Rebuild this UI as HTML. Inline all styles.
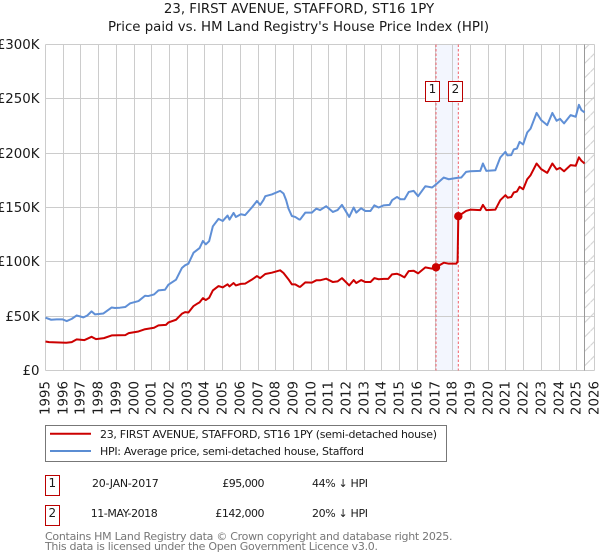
<!DOCTYPE html>
<html lang="en">
<head>
<meta charset="utf-8">
<title>23, FIRST AVENUE, STAFFORD, ST16 1PY</title>
<style>
html,body{margin:0;padding:0;background:#fff;width:600px;height:560px;overflow:hidden}
svg{display:block}
text{font-family:"DejaVu Sans","Liberation Sans",sans-serif;fill:#1a1a1a}
</style>
</head>
<body>
<svg id="chart" xmlns="http://www.w3.org/2000/svg" width="600" height="560" viewBox="0 0 600 560">
<defs>
<pattern id="hatch" patternUnits="userSpaceOnUse" width="14.4" height="14.4"><line x1="0" y1="14.4" x2="14.4" y2="0" stroke="#cfcfcf" stroke-width="1"/></pattern>
</defs>
<text x="299" y="13" text-anchor="middle" font-size="13.33">23, FIRST AVENUE, STAFFORD, ST16 1PY</text>
<text x="298.5" y="31" text-anchor="middle" font-size="13.33">Price paid vs. HM Land Registry's House Price Index (HPI)</text>
<g id="plot"></g>
<g>
<rect x="45.5" y="425.5" width="401" height="36" fill="#fff" stroke="#777" stroke-width="1"/>
<line x1="50" x2="91" y1="433.8" y2="433.8" stroke="#cc0000" stroke-width="2"/>
<text x="100" y="438" font-size="11" textLength="337" lengthAdjust="spacing">23, FIRST AVENUE, STAFFORD, ST16 1PY (semi-detached house)</text>
<line x1="50" x2="91" y1="451" y2="451" stroke="#5b8dd3" stroke-width="2"/>
<text x="100" y="455" font-size="11" textLength="264" lengthAdjust="spacing">HPI: Average price, semi-detached house, Stafford</text>
</g>
<g>
<rect x="45.5" y="475.5" width="14" height="20" fill="#fff" stroke="#bb0000" stroke-width="1"/>
<text x="52.3" y="487" text-anchor="middle" font-size="12">1</text>
<text x="92" y="487" font-size="11" textLength="66.7" lengthAdjust="spacing">20-JAN-2017</text>
<text x="222.3" y="487" font-size="11" textLength="42.2" lengthAdjust="spacing">£95,000</text>
<text x="312" y="487" font-size="11" textLength="56" lengthAdjust="spacing">44% ↓ HPI</text>
<rect x="45.5" y="505.5" width="14" height="20" fill="#fff" stroke="#bb0000" stroke-width="1"/>
<text x="52.3" y="517" text-anchor="middle" font-size="12">2</text>
<text x="90.7" y="517" font-size="11" textLength="67" lengthAdjust="spacing">11-MAY-2018</text>
<text x="215.3" y="517" font-size="11" textLength="49.2" lengthAdjust="spacing">£142,000</text>
<text x="312" y="517" font-size="11" textLength="56" lengthAdjust="spacing">20% ↓ HPI</text>
</g>
<text x="45" y="540" font-size="11" textLength="407.5" lengthAdjust="spacing" style="fill:#777">Contains HM Land Registry data © Crown copyright and database right 2025.</text>
<text x="45" y="550" font-size="11" textLength="333" lengthAdjust="spacing" style="fill:#777">This data is licensed under the Open Government Licence v3.0.</text>
</svg>
<script>
const yearTicks = [1995,1996,1997,1998,1999,2000,2001,2002,2003,2004,2005,2006,2007,2008,2009,2010,2011,2012,2013,2014,2015,2016,2017,2018,2019,2020,2021,2022,2023,2024,2025,2026];
const priceTicks = [0,50,100,150,200,250,300];
const priceTickLabels = ['£0','£50K','£100K','£150K','£200K','£250K','£300K'];
const saleDates = [2017.05,2018.31];
const salePrices = [95,142];
const saleLabels = ['1','2'];
const dataEnd = 2025.44;
const hpiDates = [1995,1995.32,1995.63,1995.97,1996.2,1996.48,1996.76,1997.14,1997.36,1997.6,1997.8,1998.27,1998.74,1998.92,1999.2,1999.5,1999.78,2000.25,2000.62,2000.8,2001.13,2001.38,2001.75,2001.94,2002.37,2002.7,2002.88,2003.07,2003.36,2003.7,2003.89,2004.05,2004.24,2004.45,2004.77,2005.01,2005.28,2005.39,2005.62,2005.75,2006.03,2006.27,2006.65,2006.94,2007.12,2007.31,2007.41,2007.78,2008.25,2008.44,2008.59,2008.72,2008.91,2009.1,2009.33,2009.38,2009.67,2010.04,2010.29,2010.5,2010.85,2011.23,2011.49,2011.74,2012.15,2012.4,2012.55,2012.82,2013.06,2013.35,2013.57,2013.81,2014.1,2014.43,2014.57,2014.85,2015.04,2015.27,2015.51,2015.79,2016.04,2016.45,2016.83,2017.06,2017.49,2017.77,2018.24,2018.48,2018.75,2018.99,2019.55,2019.7,2019.89,2020.4,2020.68,2020.97,2021.08,2021.3,2021.44,2021.62,2021.77,2021.97,2022.2,2022.39,2022.73,2022.99,2023.33,2023.62,2023.86,2024.05,2024.28,2024.65,2024.94,2025.12,2025.26,2025.44];
const hpiValues = [48.6,46.7,47,47,45.5,47.5,50.7,48.9,50.6,54.4,51.6,52.5,58,57.5,57.8,58.4,61.8,63.9,68.8,68.5,70,73.7,74.3,79,83.6,94.3,96.8,98.3,108.4,112.7,119.2,116.1,119,132.7,139.5,137.6,142.6,138.9,145,141.3,143.8,143,150,156,152.4,157,160.4,162,165.3,162.9,156.7,149,142.2,141.3,138.9,139,145.3,145.3,149,147.6,151.2,145.9,147.6,152.4,141.3,150,145.3,149.3,146.8,146.8,152,150,152,152.4,156.7,159.7,157.6,157.6,164.3,165.3,160.4,169.6,168.4,171.4,177.6,176,177.3,177.6,182.8,183.4,183.7,190.5,183.7,184.3,196,201.2,198,198.2,203.4,204.3,210.4,208,219,222.6,237,230.4,225.8,237,229.8,231.6,227.4,235,233.5,244.5,239.7,237.5];
const paidDates = [1995,1995.2,1996.17,1996.48,1996.76,1997.2,1997.6,1997.85,1998.3,1998.74,1999.5,1999.7,2000.25,2000.62,2001.13,2001.38,2001.8,2001.94,2002.37,2002.7,2002.88,2003.07,2003.36,2003.6,2003.7,2003.89,2004.05,2004.24,2004.45,2004.77,2005.01,2005.28,2005.39,2005.62,2005.75,2006.03,2006.27,2006.65,2006.94,2007.12,2007.41,2007.78,2008.25,2008.44,2008.72,2008.91,2009.1,2009.33,2009.38,2009.67,2010.04,2010.29,2010.5,2010.85,2011.23,2011.49,2011.74,2012.15,2012.4,2012.55,2012.82,2013.06,2013.35,2013.57,2013.81,2014.1,2014.35,2014.57,2014.85,2015.04,2015.27,2015.51,2015.79,2016.04,2016.45,2016.83,2017.05,2017.49,2017.77,2018.2,2018.27,2018.31,2018.75,2018.99,2019.55,2019.7,2019.89,2020.4,2020.68,2020.97,2021.1,2021.3,2021.44,2021.62,2021.77,2021.97,2022.2,2022.39,2022.73,2022.99,2023.33,2023.62,2023.86,2024.05,2024.28,2024.65,2024.94,2025.12,2025.26,2025.44];
const paidValues = [26.7,26.1,25.5,26.1,28.6,28,31,28.9,29.8,32.3,32.5,34.4,35.9,38,39.3,41.5,42,44.2,46.7,52.2,53.7,53.4,59.3,61.8,62.7,66.6,64.8,66.9,73.7,77.7,76.5,79.3,77.4,80.5,78.3,79.7,79.9,83.6,86.9,85,88.8,90,92.2,89.7,83.9,79.3,79.3,77.1,77,81.1,80.9,83,83,84.5,81.4,82,85,78.3,83.2,80.5,83.2,81.4,81.4,85,84,84.3,84.3,88.5,89,87.8,85.7,91.5,91.8,89.4,94.9,93.7,95,99.2,98.3,98.3,100.4,142,146.8,148,147.6,152.4,147.6,148,156.7,161.3,159,159.7,163.8,164.7,169,166.8,176,179.7,190.5,185.3,181.9,190.5,185,186.5,183.4,189,188.4,196.2,193,190.5];

const NS = 'http://www.w3.org/2000/svg';
const plot = document.getElementById('plot');
const plotLeft = 45.5, plotRight = 594.5, plotTop = 44.5, plotBottom = 370.5;
const xScale = function (year) { return plotLeft + (year - yearTicks[0]) * (plotRight - plotLeft) / (yearTicks[yearTicks.length - 1] - yearTicks[0]); };
const yScale = function (value) { return plotBottom - value * (plotBottom - plotTop) / priceTicks[priceTicks.length - 1]; };
const snap = function (v) { return Math.round(v - 0.5) + 0.5; };
function make(tag, attrs, text) {
  const el = document.createElementNS(NS, tag);
  Object.keys(attrs).forEach(function (k) { el.setAttribute(k, attrs[k]); });
  if (text !== undefined) el.textContent = text;
  plot.appendChild(el);
  return el;
}
function pathOf(xs, ys) {
  return xs.map(function (d, i) { return (i ? 'L' : 'M') + xScale(d).toFixed(2) + ' ' + yScale(ys[i]).toFixed(2); }).join('');
}

const band = make('rect', {x: xScale(saleDates[0]), y: plotTop, width: xScale(saleDates[1]) - xScale(saleDates[0]), height: plotBottom - plotTop, fill: '#f3f6fe'});



priceTicks.forEach(function (v, i) {
  const y = snap(yScale(v));
  const g = make('line', {x1: plotLeft, x2: plotRight, y1: y, y2: y, stroke: '#cccccc', 'stroke-width': 1});
  
  
  const t = make('text', {x: 39.5, y: y + 4.5, 'text-anchor': 'end', 'font-size': 13.33}, priceTickLabels[i]);
  
  
});

yearTicks.forEach(function (year) {
  const x = snap(xScale(year));
  const g = make('line', {x1: x, x2: x, y1: plotTop, y2: plotBottom, stroke: '#cccccc', 'stroke-width': 1});
  
  
  const t = make('text', {transform: 'translate(' + (x + 4) + ',415) rotate(-90)', 'font-size': 13.33}, String(year));
  
  
});

const hatchRect = make('rect', {x: snap(xScale(dataEnd)), y: plotTop, width: plotRight - snap(xScale(dataEnd)), height: plotBottom - plotTop, fill: 'url(#hatch)'});


const endLine = make('line', {x1: snap(xScale(dataEnd)), x2: snap(xScale(dataEnd)), y1: plotTop, y2: plotBottom, stroke: '#999999', 'stroke-width': 1});



saleDates.forEach(function (d) {
  const l = make('line', {x1: xScale(d), x2: xScale(d), y1: plotTop, y2: plotBottom, stroke: '#f0606a', 'stroke-width': 1, 'stroke-dasharray': '2.5 2'});
  
  
});

const hpiLine = make('path', {d: pathOf(hpiDates, hpiValues), fill: 'none', stroke: '#5f8fd6', 'stroke-width': 2, 'stroke-linejoin': 'round'});


const paidLine = make('path', {d: pathOf(paidDates, paidValues), fill: 'none', stroke: '#cc0000', 'stroke-width': 2, 'stroke-linejoin': 'round'});



saleDates.forEach(function (d, i) {
  const c = make('circle', {cx: xScale(d), cy: yScale(salePrices[i]), r: 4.2, fill: '#cc0000'});
  
  
  const cx = xScale(d) - 3;
  const b = make('rect', {x: snap(cx - 7), y: 81.5, width: 14, height: 20, fill: '#fff', stroke: '#bb0000', 'stroke-width': 1});
  
  
  const t = make('text', {x: snap(cx - 7) + 7, y: 93, 'text-anchor': 'middle', 'font-size': 12}, saleLabels[i]);
  
  
});
</script>
</body>
</html>
